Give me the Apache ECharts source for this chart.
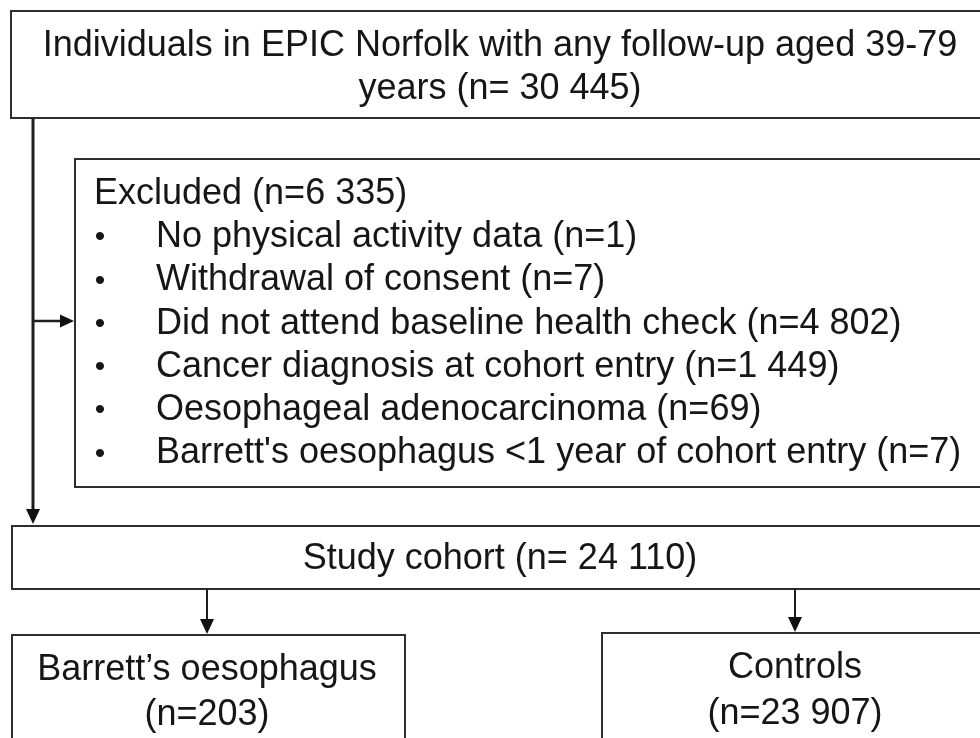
<!DOCTYPE html>
<html>
<head>
<meta charset="utf-8">
<script src="https://cdn.jsdelivr.net/npm/echarts@6/dist/echarts.min.js"></script>
<style>
  html, body { margin: 0; padding: 0; background: #ffffff; }
  #chart { width: 980px; height: 738px; }
</style>
</head>
<body>
<div id="chart"></div>
<script>
// ---- Data (text and counts of the flow diagram) ----
const sourceLines = ['Individuals in EPIC Norfolk with any follow-up aged 39-79', 'years (n= 30 445)'];
const excludedTitle = 'Excluded (n=6 335)';
const excludedReasons = [
  'No physical activity data',
  'Withdrawal of consent',
  'Did not attend baseline health check',
  'Cancer diagnosis at cohort entry',
  'Oesophageal adenocarcinoma',
  "Barrett's oesophagus <1 year of cohort entry"
];
const excludedCounts = ['1', '7', '4 802', '1 449', '69', '7'];
const cohortLabel = 'Study cohort (n= 24 110)';
const groupNames = ['Barrett\u2019s oesophagus', 'Controls'];
const groupCounts = ['203', '23 907'];

// ---- Layout / style ----
const FONT = '36px "Liberation Sans", Arial, sans-serif';
const BULLET_FONT = '30px "Liberation Sans", Arial, sans-serif';
const TXT = '#161616';
const LINE = '#2e2e2e';
const DY = 2;

function box(x, y, w, h) {
  return { type: 'rect', shape: { x: x, y: y, width: w, height: h },
           style: { fill: 'none', stroke: LINE, lineWidth: 2 }, z: 1 };
}
function text(str, x, y, align, font) {
  return { type: 'text', x: x, y: y + DY, z: 3,
           style: { text: str, font: font || FONT, fill: TXT, textAlign: align || 'center', textVerticalAlign: 'middle' } };
}
function seg(x1, y1, x2, y2, w) {
  return { type: 'line', shape: { x1: x1, y1: y1, x2: x2, y2: y2 },
           style: { stroke: '#1e1e1e', lineWidth: w || 2 }, z: 2 };
}
function headDown(x, tipY) {
  return { type: 'polygon', shape: { points: [[x - 7, tipY - 15], [x + 7, tipY - 15], [x, tipY]] },
           style: { fill: '#111' }, z: 2 };
}
function headRight(tipX, y) {
  return { type: 'polygon', shape: { points: [[tipX - 14, y - 6.5], [tipX - 14, y + 6.5], [tipX, y]] },
           style: { fill: '#111' }, z: 2 };
}

const els = [];
// Source box
els.push(box(11, 11, 979, 107));
els.push(text(sourceLines[0], 500, 44));
els.push(text(sourceLines[1], 500, 87));

// Main vertical connector with side arrow
els.push(seg(33, 118, 33, 512, 3));
els.push(headDown(33, 524));
els.push(seg(33, 321, 62, 321, 2.5));
els.push(headRight(74, 321));

// Excluded box
els.push(box(75, 159, 920, 328));
els.push(text(excludedTitle, 94, 192, 'left'));
excludedReasons.forEach(function (r, i) {
  const y = 235 + i * 43.3;
  els.push(text('\u2022', 100, y + 1, 'center', BULLET_FONT));
  els.push(text(r + ' (n=' + excludedCounts[i] + ')', 156, y, 'left'));
});

// Study cohort box
els.push(box(12, 526, 985, 63));
els.push(text(cohortLabel, 500, 557));

// Arrows to groups
els.push(seg(207, 589, 207, 622, 2));
els.push(headDown(207, 634));
els.push(seg(795, 589, 795, 620, 2));
els.push(headDown(795, 632));

// Group boxes
els.push(box(12, 635, 393, 140));
els.push(text(groupNames[0], 207, 668));
els.push(text('(n=' + groupCounts[0] + ')', 207, 713));
els.push(box(602, 633, 400, 140));
els.push(text(groupNames[1], 795, 666));
els.push(text('(n=' + groupCounts[1] + ')', 795, 712));

const chart = echarts.init(document.getElementById('chart'), null, { renderer: 'canvas' });
chart.setOption({
  backgroundColor: '#ffffff',
  animation: false,
  graphic: { elements: els }
});
</script>
</body>
</html>
